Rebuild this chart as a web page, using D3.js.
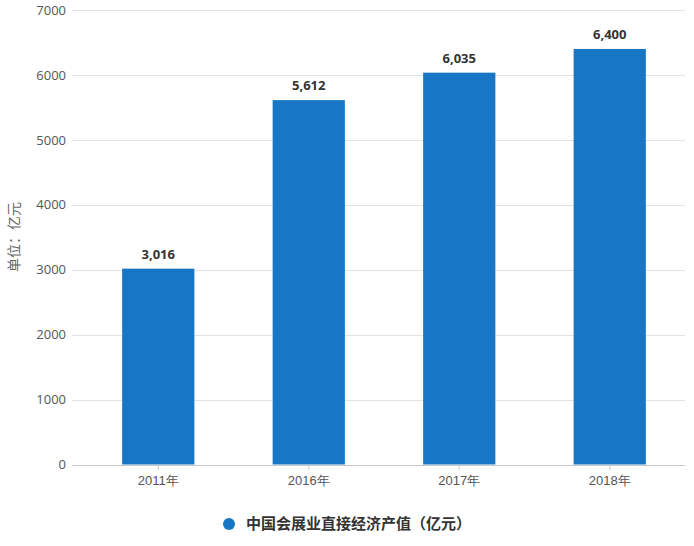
<!DOCTYPE html>
<html><head><meta charset="utf-8">
<script src="https://cdn.jsdelivr.net/npm/d3@7"></script>
<style>
body{margin:0;background:#fff;}
svg{display:block;font-family:"Noto Sans CJK SC","Noto Sans",sans-serif;}
</style></head>
<body>
<svg id="c" width="694" height="546"></svg>
<script>
const categories = ["2011年","2016年","2017年","2018年"];
const values = [3016, 5612, 6035, 6400];
const yTicks = [0,1000,2000,3000,4000,5000,6000,7000];
const seriesName = "中国会展业直接经济产值（亿元）";
const yTitle = "单位：亿元";

const svg = d3.select("#c");
const m = {left:83, right:9, top:10, bottom:81};
const W = 694, H = 546;
const x = d3.scaleBand().domain(categories).range([m.left, W-m.right]).paddingInner(0.52).paddingOuter(0.26);
const y = d3.scaleLinear().domain([0,7000]).range([464.5, 10]);

// grid
svg.append("g").selectAll("line").data(yTicks.filter(d=>d>0)).join("line")
  .attr("x1", 72).attr("x2", W-m.right)
  .attr("y1", d=>Math.round(y(d))+0.5).attr("y2", d=>Math.round(y(d))+0.5)
  .attr("stroke","#e3e3e3").attr("stroke-width",1);

// y labels
const yAxis = d3.axisLeft(y).tickValues(yTicks).tickSize(0).tickPadding(0).tickFormat(d3.format("d"));
const ya = svg.append("g").attr("transform",`translate(66,0)`).call(yAxis);
ya.select(".domain").remove();
ya.selectAll("text").attr("font-size",13).attr("fill","#555").attr("font-family","'Open Sans','Noto Sans',sans-serif");

// bars
svg.append("g").selectAll("rect").data(values).join("rect")
  .attr("x",(d,i)=>x(categories[i])).attr("width",x.bandwidth())
  .attr("y",d=>y(d)).attr("height",d=>y(0)-y(d))
  .attr("fill","#1777c4");

// value labels
svg.append("g").selectAll("text").data(values).join("text")
  .attr("x",(d,i)=>x(categories[i])+x.bandwidth()/2)
  .attr("y",d=>y(d)-10)
  .attr("text-anchor","middle")
  .attr("font-size",13).attr("font-weight","bold").attr("fill","#333")
  .attr("font-family","'Open Sans','Noto Sans',sans-serif")
  .text(d=>d3.format(",")(d));

// x axis
svg.append("line").attr("x1",72).attr("x2",W-m.right)
  .attr("y1",Math.round(y(0))+0.5).attr("y2",Math.round(y(0))+0.5)
  .attr("stroke","#c8c8c8");
const xAxis = d3.axisBottom(x).tickSize(5).tickPadding(6);
const xa = svg.append("g").attr("transform",`translate(0,${Math.round(y(0))})`).call(xAxis);
xa.select(".domain").remove();
xa.selectAll("line").attr("stroke","#c8c8c8");
xa.selectAll("text").attr("font-size",13).attr("fill","#555");

// y title
svg.append("text").attr("transform","translate(19,237) rotate(-90)")
  .attr("text-anchor","middle").attr("font-size",14).attr("fill","#666").text(yTitle);

// legend
svg.append("circle").attr("cx",229).attr("cy",524).attr("r",6).attr("fill","#1777c4");
svg.append("text").attr("x",246).attr("y",529).attr("font-size",15).attr("font-weight","bold")
  .attr("fill","#333").text(seriesName);
</script>
</body></html>
